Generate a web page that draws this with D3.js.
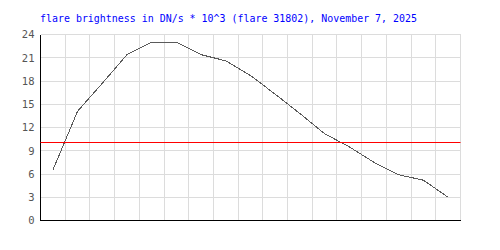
<!DOCTYPE html>
<html>
<head>
<meta charset="utf-8">
<script src="https://cdn.jsdelivr.net/npm/d3@7"></script>
<style>
  html, body { margin: 0; padding: 0; background: #fff; }
  svg { display: block; }
  .title { font-family: "DejaVu Sans Mono", monospace; font-size: 11px; fill: #0000ff; }
  .tick text { font-family: "DejaVu Sans Mono", monospace; font-size: 10.5px; fill: #555; }
</style>
</head>
<body>
<svg id="chart" width="500" height="250"></svg>
<script>
// flare brightness samples, one per time slot (no x labels shown)
const slots = d3.range(17);
const brightness = [6.5, 14.1, 17.7, 21.4, 23.0, 23.0, 21.4, 20.6, 18.7, 16.3, 13.8, 11.2, 9.5, 7.5, 5.9, 5.2, 3.0];
const yTicks = [0, 3, 6, 9, 12, 15, 18, 21, 24];
const threshold = 10;
const titleText = 'flare brightness in DN/s * 10^3 (flare 31802), November 7, 2025';

const svg = d3.select('#chart');
const x0 = 40.5, x1 = 460.5, yTop = 34.5, yBot = 220.5;

const x = d3.scaleBand().domain(slots).range([x0, x1]);
const y = d3.scaleLinear().domain([0, 24]).range([yBot, yTop]);

// title
svg.append('text')
  .attr('class', 'title')
  .attr('x', 40)
  .attr('y', 22)
  .attr('textLength', 377)
  .attr('lengthAdjust', 'spacingAndGlyphs')
  .text(titleText);

// grid
const grid = svg.append('g').attr('shape-rendering', 'crispEdges');
grid.selectAll('.hgrid')
  .data(yTicks.filter(d => d > 0))
  .join('line')
  .attr('x1', x0).attr('x2', x1)
  .attr('y1', d => y(d)).attr('y2', d => y(d))
  .attr('stroke', '#dcdcdc');

grid.selectAll('.vgrid')
  .data(slots)
  .join('line')
  .attr('x1', d => x(d) + x.bandwidth()).attr('x2', d => x(d) + x.bandwidth())
  .attr('y1', yTop).attr('y2', yBot)
  .attr('stroke', '#dcdcdc');

// y axis
const yAxis = d3.axisLeft(y).tickValues(yTicks).tickSize(0).tickPadding(6);
svg.append('g')
  .attr('transform', `translate(${x0},0)`)
  .call(yAxis)
  .call(g => g.select('.domain').remove());

// axis lines
svg.append('line')
  .attr('x1', x0).attr('x2', x0).attr('y1', yTop).attr('y2', yBot)
  .attr('stroke', '#000').attr('shape-rendering', 'crispEdges');
svg.append('line')
  .attr('x1', x0).attr('x2', x1).attr('y1', yBot).attr('y2', yBot)
  .attr('stroke', '#000').attr('shape-rendering', 'crispEdges');

// series line
const line = d3.line()
  .x((d, i) => x(slots[i]) + x.bandwidth() / 2)
  .y(d => y(d));

svg.append('path')
  .datum(brightness)
  .attr('fill', 'none')
  .attr('stroke', '#5a5a5a')
  .attr('stroke-width', 1)
  .attr('shape-rendering', 'crispEdges')
  .attr('d', line);

// threshold (drawn on top)
svg.append('line')
  .attr('x1', x0).attr('x2', x1)
  .attr('y1', y(threshold) - 0.5).attr('y2', y(threshold) - 0.5)
  .style('stroke', 'rgb(255,0,0)')
  .attr('stroke-width', 1.2);
</script>
</body>
</html>
